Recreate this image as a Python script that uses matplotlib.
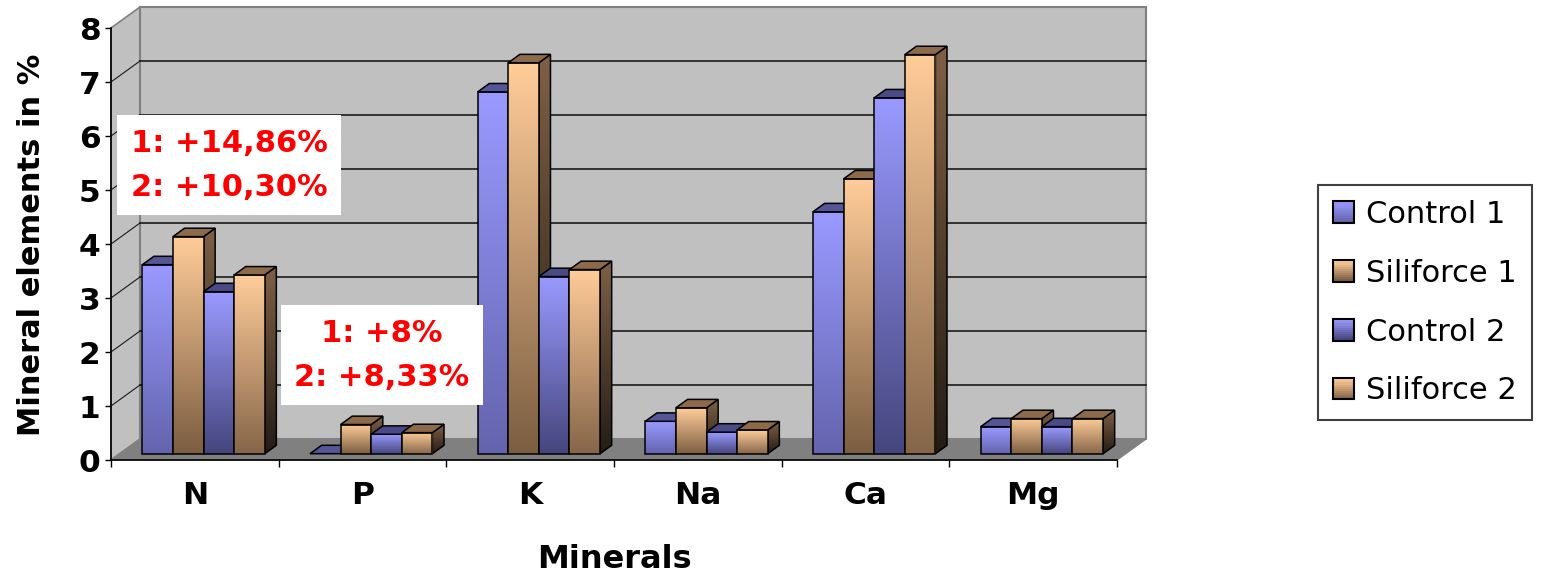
import numpy as np
import matplotlib.pyplot as plt
from matplotlib.patches import Polygon, Rectangle
from matplotlib.colors import to_rgb
from matplotlib.legend_handler import HandlerBase

# mineral content (%) per treatment
minerals = ['N', 'P', 'K', 'Na', 'Ca', 'Mg']
series_names = ['Control 1', 'Siliforce 1', 'Control 2', 'Siliforce 2']
control_1 = [3.50, 0.00, 6.70, 0.60, 4.48, 0.50]
siliforce_1 = [4.02, 0.54, 7.24, 0.85, 5.09, 0.65]
control_2 = [3.00, 0.36, 3.28, 0.40, 6.59, 0.50]
siliforce_2 = [3.31, 0.39, 3.41, 0.44, 7.39, 0.65]
note_n = '1: +14,86%\n2: +10,30%'
note_p = '1: +8%\n2: +8,33%'

series_values = [control_1, siliforce_1, control_2, siliforce_2]

# face colours (front gradient top/bottom, top face, side gradient)
front_top = ['#9999FF', '#FFCC99', '#9999FF', '#FFCC99']
front_bottom = ['#6464AE', '#7C5E42', '#46467E', '#86664A']
top_face = ['#55559A', '#8C6A4A', '#4A4A88', '#8C6A4A']
side_top = ['#50508A', '#7E6046', '#4A4A80', '#7E6046']
side_bottom = ['#1E1E38', '#241C14', '#1E1E38', '#241C14']

# oblique depth of the floor, in data units
DX = 0.173
DY = 0.389
F0, F1 = 0.3, 0.7          # bar depth range as fraction of floor depth
BW = 0.1825                # bar width

n_cat = len(minerals)
y_max = 8


def gradient(top, bottom, n=80):
    t = np.linspace(0, 1, n)[:, None]
    c = (1 - t) * np.array(to_rgb(top)) + t * np.array(to_rgb(bottom))
    return c[:, None, :]


fig = plt.figure(figsize=(15.43, 5.82), dpi=100)
ax = fig.add_axes([111 / 1543, 122 / 582, 1006 / 1543, 432 / 582])
ax.patch.set_visible(False)

# walls and floor
left_wall = Polygon([(0, 0), (0, y_max), (DX, y_max + DY), (DX, DY)],
                    closed=True, facecolor='#C0C0C0', edgecolor='#808080',
                    lw=1.2, zorder=1, clip_on=False)
back_wall = Rectangle((DX, DY), n_cat, y_max, facecolor='#C0C0C0',
                      edgecolor='#808080', lw=1.5, zorder=1, clip_on=False)
floor = Polygon([(0, 0), (n_cat, 0), (n_cat + DX, DY), (DX, DY)],
                closed=True, facecolor='#808080', edgecolor='#808080',
                lw=1, zorder=1.5, clip_on=False)
for p in (left_wall, back_wall, floor):
    ax.add_patch(p)

for k in range(1, y_max):
    ax.plot([DX, n_cat + DX], [k + DY, k + DY], color='#1a1a1a', lw=1.2,
            zorder=2, clip_on=False)
    ax.plot([0, DX], [k, k + DY], color='#1a1a1a', lw=0.8, zorder=2,
            clip_on=False)

# bars
z = 10
bx, by = (F1 - F0) * DX, (F1 - F0) * DY
base = F0 * DY
for i in range(n_cat):
    for j, vals in enumerate(series_values):
        v = vals[i]
        x0 = i + 0.5 - 2 * BW + j * BW + F0 * DX
        x1 = x0 + BW
        top = base + v
        # side face
        side = Polygon([(x1, base), (x1, top), (x1 + bx, top + by),
                        (x1 + bx, base + by)], closed=True,
                       facecolor='none', edgecolor='black', lw=1.1,
                       zorder=z + 0.2, clip_on=False)
        ax.add_patch(side)
        if v > 0:
            im = ax.imshow(gradient(side_top[j], side_bottom[j]),
                           extent=(x1, x1 + bx, base, top + by),
                           aspect='auto', origin='upper', zorder=z + 0.1,
                           interpolation='bilinear')
            im.set_clip_path(side)
            im.set_clip_on(True)
            # front face
            ax.imshow(gradient(front_top[j], front_bottom[j]),
                      extent=(x0, x1, base, top), aspect='auto',
                      origin='upper', zorder=z + 0.3,
                      interpolation='bilinear', clip_on=False)
            ax.add_patch(Rectangle((x0, base), BW, v, facecolor='none',
                                   edgecolor='black', lw=1.1,
                                   zorder=z + 0.4, clip_on=False))
        # top face
        ax.add_patch(Polygon([(x0, top), (x1, top), (x1 + bx, top + by),
                              (x0 + bx, top + by)], closed=True,
                             facecolor=top_face[j], edgecolor='black',
                             lw=1.1, zorder=z + 0.5, clip_on=False))
        z += 1

ax.set_xlim(0, n_cat)
ax.set_ylim(0, y_max)

# axes, ticks, labels
for s in ('top', 'right'):
    ax.spines[s].set_visible(False)
for s in ('left', 'bottom'):
    ax.spines[s].set_linewidth(1.2)
    ax.spines[s].set_color('black')
    ax.spines[s].set_zorder(5)

ax.set_yticks(range(y_max + 1))
ax.set_yticklabels([str(k) for k in range(y_max + 1)], fontweight='bold')
ax.tick_params(axis='y', direction='out', length=4.5, width=1, pad=3,
               labelsize=22.5)
ax.set_xticks(range(n_cat + 1))
ax.set_xticklabels([''] * (n_cat + 1))
ax.set_xticks(np.arange(n_cat) + 0.5, minor=True)
ax.set_xticklabels(minerals, minor=True, fontweight='bold', fontsize=22.5)
ax.tick_params(axis='x', which='major', direction='out', length=5,
               width=1)
ax.tick_params(axis='x', which='minor', length=0, pad=15)

ax.set_ylabel('Mineral elements in %', fontsize=22, fontweight='bold')
ax.yaxis.set_label_coords(-0.0795, 0.498)
ax.set_xlabel('Minerals', fontsize=23, fontweight='bold')
ax.xaxis.set_label_coords(0.5, -0.231)
ax.xaxis.label.set_va('center')
ax.yaxis.label.set_va('center')

# percentage notes
box = dict(facecolor='white', edgecolor='none', pad=10)
ax.text(0.704, 5.46, note_n, color='#FF0000', fontsize=22,
        fontweight='bold', ha='center', va='center', linespacing=1.65,
        bbox=box, zorder=50)
ax.text(1.616, 1.94, note_p, color='#FF0000', fontsize=22,
        fontweight='bold', ha='center', va='center', linespacing=1.65,
        bbox=box, zorder=50)


# legend with gradient squares
class GradientSquare(HandlerBase):
    def __init__(self, top, bottom):
        super().__init__()
        self.top, self.bottom = top, bottom

    def create_artists(self, legend, orig_handle, xdescent, ydescent,
                       width, height, fontsize, trans):
        side = min(width, height)
        x0 = -xdescent + (width - side) / 2
        y0 = -ydescent + (height - side) / 2
        cols = gradient(self.top, self.bottom, n=10)[::-1, 0, :]
        arts = []
        for k, c in enumerate(cols):
            arts.append(Rectangle((x0, y0 + side * k / len(cols)), side,
                                  side / len(cols), facecolor=c,
                                  edgecolor='none', transform=trans))
        arts.append(Rectangle((x0, y0), side, side, facecolor='none',
                              edgecolor='black', lw=1.5, transform=trans))
        return arts


handles = [Rectangle((0, 0), 1, 1) for _ in series_names]
hmap = {h: GradientSquare(front_top[j], front_bottom[j])
        for j, h in enumerate(handles)}
leg = fig.legend(handles, series_names, handler_map=hmap,
                 loc='upper left', bbox_to_anchor=(1318 / 1543, 1 - 185 / 582),
                 fontsize=22, handlelength=0.7, handleheight=0.7,
                 handletextpad=0.4, labelspacing=0.98, borderpad=0.48,
                 borderaxespad=0, fancybox=False, framealpha=1,
                 edgecolor='#404040')
leg.get_frame().set_linewidth(1.5)

fig.savefig('out.png', dpi=100)
